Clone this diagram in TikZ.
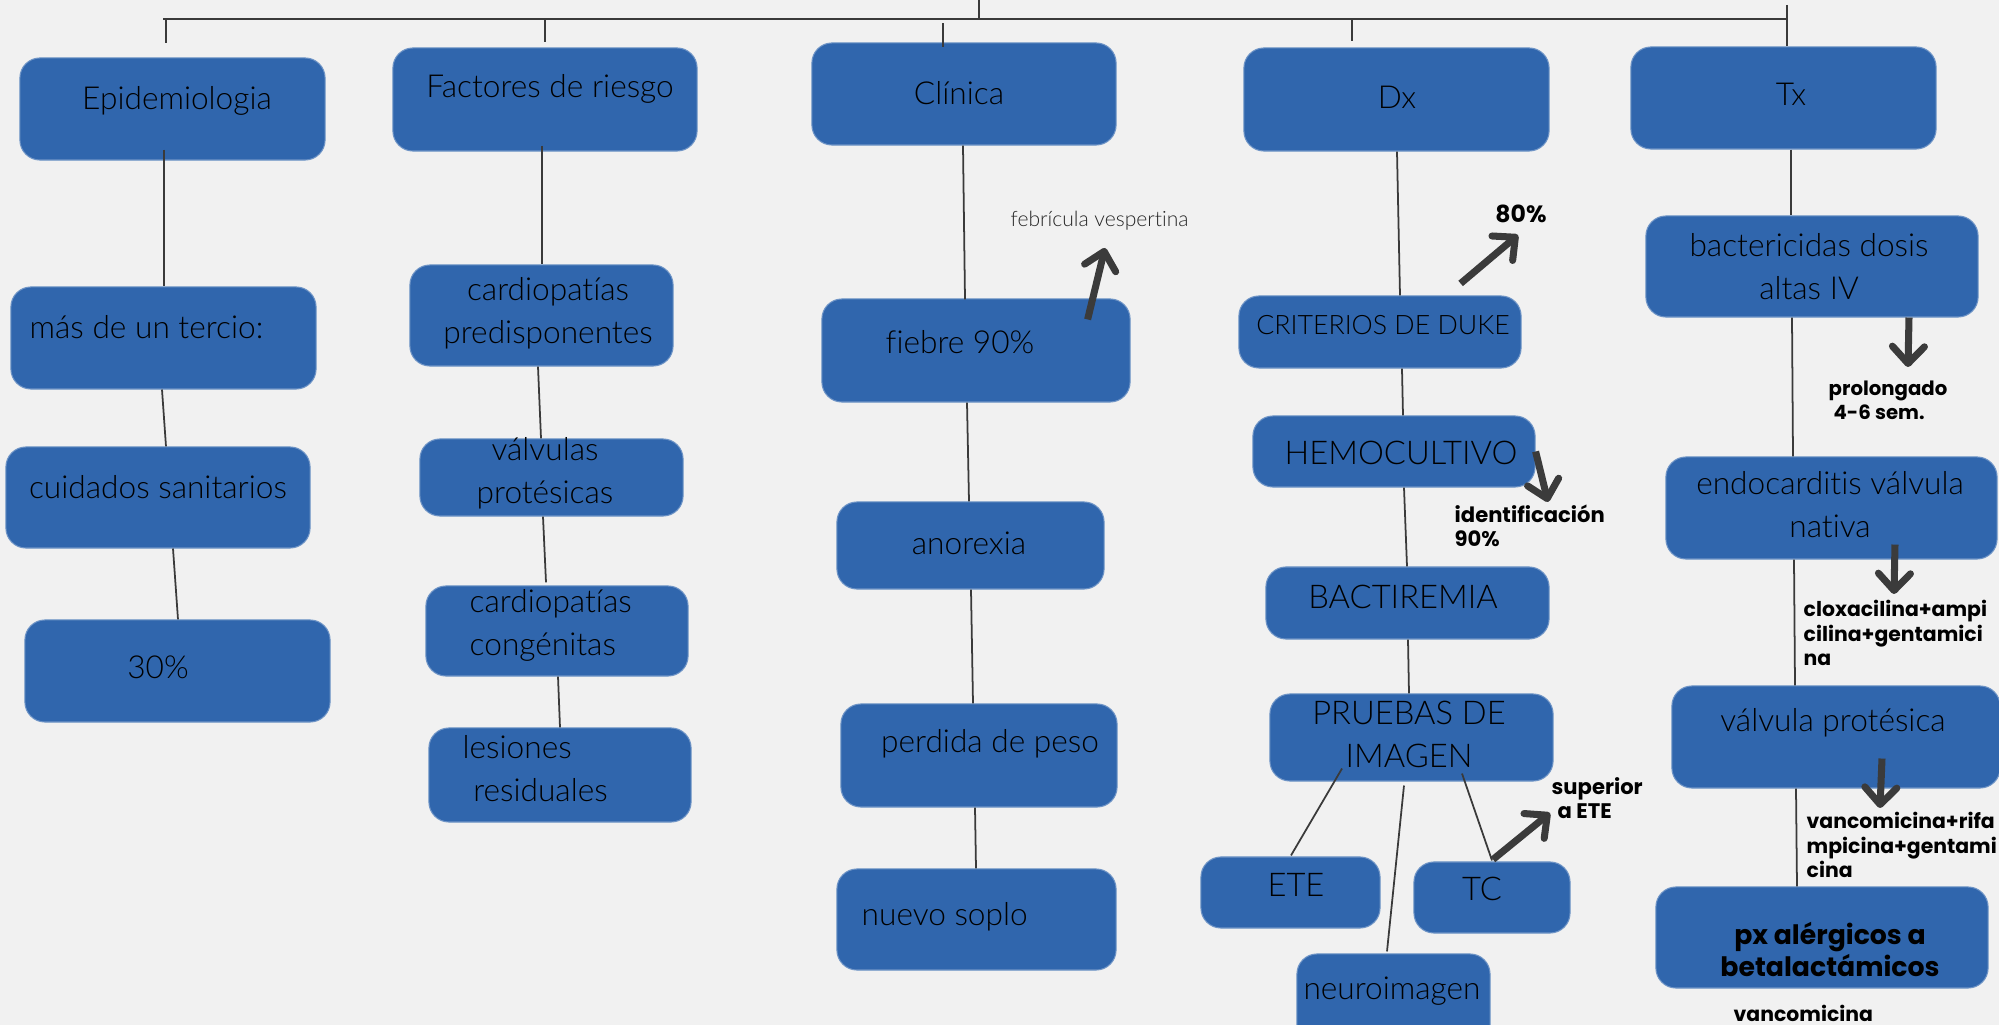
\documentclass[tikz,border=0pt]{standalone}
\usepackage{fontspec}
\setmainfont{Lato Light}[Ligatures=NoCommon]
\newfontfamily\pop{Poppins}
\usetikzlibrary{arrows.meta}
\definecolor{bg}{HTML}{F1F1F1}
\definecolor{boxblue}{HTML}{3066AD}
\definecolor{linegray}{HTML}{3A3A3A}
\definecolor{arrowgray}{HTML}{3B3B3B}
\tikzset{
  box/.style={draw=boxblue!70!white, line width=0.3pt, fill=boxblue, rounded corners=0.2cm, inner sep=0pt},
  conn/.style={draw=linegray, line width=0.5pt},
  bigarrow/.style={draw=arrowgray, line width=2pt, line cap=butt,
    -{Straight Barb[length=1.7mm, width=3.2mm, line cap=round, line join=round]}},
  txt/.style={inner sep=0pt, anchor=base, text=black, font=\fontsize{9}{12.5}\selectfont},
  caps/.style={font=\fontsize{9.3}{12.3}\selectfont},
  crit/.style={font=\fontsize{7.6}{10}\selectfont},
  small/.style={inner sep=0pt, anchor=base west, text=black!85, font=\fontsize{6}{7}\selectfont},
  lab/.style={inner sep=0pt, anchor=base west, align=left, text=black, font=\pop\bfseries\fontsize{5.8}{7.1}\selectfont},
  pxs/.style={inner sep=0pt, anchor=base, align=center, text=black, font=\pop\bfseries\fontsize{7.6}{9.1}\selectfont},
}
\begin{document}
\begin{tikzpicture}[x=0.01cm, y=-0.01cm]
\useasboundingbox (0,0) rectangle (1999,1025);
\clip (0,0) rectangle (1999,1025);
\fill[bg] (0,0) rectangle (1999,1025);

% ---- boxes ----
\node[box, minimum width=3.05cm, minimum height=1.02cm] (epi) at (172.5,109) {};
\node[box, minimum width=3.04cm, minimum height=1.03cm] (fac) at (545,99.5) {};
\node[box, minimum width=3.04cm, minimum height=1.02cm] (cli) at (964,94) {};
\node[box, minimum width=3.05cm, minimum height=1.03cm] (dx) at (1396.5,99.5) {};
\node[box, minimum width=3.05cm, minimum height=1.02cm] (tx) at (1783.5,98) {};

\node[box, minimum width=3.05cm, minimum height=1.02cm] (mas) at (163.5,338) {};
\node[box, minimum width=3.04cm, minimum height=1.01cm] (cui) at (158,497.5) {};
\node[box, minimum width=3.05cm, minimum height=1.02cm] (p30) at (177.5,671) {};

\node[box, minimum width=2.63cm, minimum height=1.01cm] (cpre) at (541.5,315.5) {};
\node[box, minimum width=2.63cm, minimum height=0.77cm] (vpro) at (551.5,477.5) {};
\node[box, minimum width=2.62cm, minimum height=0.90cm] (ccon) at (557,631) {};
\node[box, minimum width=2.62cm, minimum height=0.94cm] (lres) at (560,775) {};

\node[box, minimum width=3.08cm, minimum height=1.03cm] (fie) at (976,350.5) {};
\node[box, minimum width=2.67cm, minimum height=0.87cm] (ano) at (970.5,545.5) {};
\node[box, minimum width=2.76cm, minimum height=1.03cm] (per) at (979,755.5) {};
\node[box, minimum width=2.79cm, minimum height=1.01cm] (nue) at (976.5,919.5) {};

\node[box, minimum width=2.82cm, minimum height=0.72cm] (cri) at (1380,332) {};
\node[box, minimum width=2.82cm, minimum height=0.71cm] (hem) at (1394,451.5) {};
\node[box, minimum width=2.83cm, minimum height=0.72cm] (bac) at (1407.5,603) {};
\node[box, minimum width=2.83cm, minimum height=0.87cm] (pru) at (1411.5,737.5) {};
\node[box, minimum width=1.79cm, minimum height=0.71cm] (ete) at (1290.5,892.5) {};
\node[box, minimum width=1.56cm, minimum height=0.71cm] (tc) at (1492,897.5) {};
\node[box, minimum width=1.93cm, minimum height=0.91cm] (neu) at (1393.5,999.5) {};

\node[box, minimum width=3.32cm, minimum height=1.01cm] (bact) at (1812,266.5) {};
\node[box, minimum width=3.31cm, minimum height=1.02cm] (endo) at (1831.5,508) {};
\node[box, minimum width=3.28cm, minimum height=1.02cm] (valp) at (1836,737) {};
\node[box, minimum width=3.32cm, minimum height=1.01cm] (pxa) at (1822,937.5) {};

% ---- top bar ----
\coordinate (top0) at (979,0);
\coordinate (barL) at (163,19);
\coordinate (barR) at (1787,19);
\coordinate (txTop) at (1787,5);
\draw[conn, line width=0.6pt] (barL) -- (barR);
\draw[conn] (top0) -- (top0 |- barL);
\draw[conn] (txTop) -- (tx.north -| barR);
\draw[conn] ([shift={(3,0)}]barL) -- ++(0,24);
\draw[conn] (fac.north |- barL) -- ([shift={(0,-5)}]fac.north);
\draw[conn] ([shift={(-21,-19)}]cli.north) -- ++(0,24);
\draw[conn] ([shift={(-44.5,-29)}]dx.north) -- ++(0,23);

% ---- column connectors ----
\draw[conn] ([shift={(-8.5,-11)}]epi.south) -- ([shift={(0.5,0)}]mas.north);
\draw[conn] ([shift={(-1.5,0)}]mas.south) -- ([shift={(8,0)}]cui.north);
\draw[conn] ([shift={(15,0)}]cui.south) -- ([shift={(0.5,0)}]p30.north);

\draw[conn] ([shift={(-3,-6)}]fac.south) -- ([shift={(0.5,0)}]cpre.north);
\draw[conn] ([shift={(-3.5,0)}]cpre.south) -- ([shift={(-10.5,0)}]vpro.north);
\draw[conn] ([shift={(-8.5,0)}]vpro.south) -- ([shift={(-11,-3)}]ccon.north);
\draw[conn] ([shift={(1,0)}]ccon.south) -- (lres.north);

\draw[conn] ([shift={(-1,0)}]cli.south) -- ([shift={(-11,1)}]fie.north);
\draw[conn] ([shift={(-9,0)}]fie.south) -- ([shift={(-1.5,0)}]ano.north);
\draw[conn] ([shift={(0.5,0)}]ano.south) -- ([shift={(-6,0)}]per.north);
\draw[conn] ([shift={(-4,0)}]per.south) -- ([shift={(-0.5,0)}]nue.north);

\draw[conn] ([shift={(0.5,0)}]dx.south) -- ([shift={(20,0)}]cri.north);
\draw[conn] ([shift={(22,0)}]cri.south) -- ([shift={(9,0)}]hem.north);
\draw[conn] ([shift={(10,0)}]hem.south) -- ([shift={(-0.5,0)}]bac.north);
\draw[conn] ([shift={(0.5,0)}]bac.south) -- ([shift={(-2.5,0)}]pru.north);
\draw[conn] ([shift={(-69.5,-13)}]pru.south) -- ([shift={(0.5,-1)}]ete.north);
\draw[conn] ([shift={(-7.5,4)}]pru.south) -- ([shift={(-6.5,-2)}]neu.north);
\draw[conn] ([shift={(50.5,-8)}]pru.south) -- ([shift={(0,-1)}]tc.north);

\draw[conn] ([shift={(7.5,0)}]tx.south) -- ([shift={(-21,0)}]bact.north);
\draw[conn] ([shift={(-20,0)}]bact.south) -- ([shift={(-38.5,0)}]endo.north);
\draw[conn] ([shift={(-37.5,0)}]endo.south) -- ([shift={(-41,0)}]valp.north);
\draw[conn] ([shift={(-40,0)}]valp.south) -- ([shift={(-25,0)}]pxa.north);

% ---- box texts ----
\node[txt] (epiT) at (177,110) {Epidemiologia};
\node[txt] (facT) at (550,98) {Factores de riesgo};
\node[txt] (cliT) at (959,105) {Clínica};
\node[txt] (dxT) at (1397,109) {Dx};
\node[txt] (txT) at (1791,106) {Tx};
\node[txt, anchor=base west] (masT) at (29,339) {más de un tercio:};
\node[txt] (cuiT) at (158,499) {cuidados sanitarios};
\node[txt] (p30T) at (158,679) {30\%};
\node[txt, align=center] (cpreT) at (548,344) {cardiopatías\\predisponentes};
\node[txt, align=center] (vproT) at (545,504) {válvulas\\protésicas};
\node[txt, align=left, anchor=base west] (cconT) at (469,656) {cardiopatías\\congénitas};
\node[txt, align=left, anchor=base west] (lresT) at (462,802) {lesiones\\\hspace*{3pt}residuales};
\node[txt] (fieT) at (960,354) {fiebre 90\%};
\node[txt] (anoT) at (969,555) {anorexia};
\node[txt] (perT) at (990,753) {perdida de peso};
\node[txt, anchor=base west] (nueT) at (861,926) {nuevo soplo};
\node[txt, crit] (criT) at (1383,335) {CRITERIOS DE DUKE};
\node[txt, caps] (hemT) at (1401,465) {HEMOCULTIVO};
\node[txt, caps] (bacT) at (1403,609) {BACTIREMIA};
\node[txt, caps, align=center] (pruT) at (1409,768) {PRUEBAS DE\\IMAGEN};
\node[txt, caps] (eteT) at (1296,897) {ETE};
\node[txt, caps] (tcT) at (1482,901) {TC};
\node[txt] (neuT) at (1392,1000) {neuroimagen};
\node[txt, align=center] (bactT) at (1809,300) {bactericidas dosis\\altas IV};
\node[txt, align=center] (endoT) at (1830,538) {endocarditis válvula\\nativa};
\node[txt] (valpT) at (1833,732) {válvula protésica};
\node[pxs] (pxaT) at (1830,977) {px alérgicos a\\betalactámicos};

% ---- free labels ----
\node[small] (febT) at (1010,227) {febrícula vespertina};
\node[lab, anchor=base, font=\pop\bfseries\fontsize{6.7}{7}\selectfont] (l80) at (1521,223) {80\%};
\node[lab, font=\pop\bfseries\fontsize{6}{7.1}\selectfont] (lid) at (1454,547) {identificación\\90\%};
\node[lab, font=\pop\bfseries\fontsize{6}{6.9}\selectfont] (lsup) at (1551,819) {superior\\\hspace*{1.7pt}a ETE};
\node[lab, font=\pop\bfseries\fontsize{5.6}{7.1}\selectfont] (lpro) at (1828,420) {prolongado\\\hspace*{1.4pt}4-6 sem.};
\node[lab] (lclo) at (1803,666) {cloxacilina+ampi\\cilina+gentamici\\na};
\node[lab] (lvan) at (1806,878) {vancomicina+rifa\\mpicina+gentami\\cina};
\node[lab] (lvanc) at (1733,1022) {vancomicina};

% ---- thick arrows ----
\coordinate (a1e) at (1105,248);
\coordinate (a2e) at (1518,235);
\coordinate (a3e) at (1548,502);
\coordinate (a4e) at (1550,813);
\coordinate (a5e) at (1908,367);
\coordinate (a6e) at (1894,594);
\coordinate (a7e) at (1880,808);
\draw[bigarrow] ([shift={(-43,21)}]fie.north east) -- (a1e);
\draw[bigarrow] ([shift={(-61,-12)}]cri.north east) -- (a2e);
\draw[bigarrow] (hem.east) -- (a3e);
\draw[bigarrow] ([shift={(1,-2)}]tc.north) -- (a4e);
\draw[bigarrow] ([shift={(97,0)}]bact.south) -- (a5e);
\draw[bigarrow] ([shift={(63.5,-15)}]endo.south) -- (a6e);
\draw[bigarrow] ([shift={(46,-30)}]valp.south) -- (a7e);
\end{tikzpicture}
\end{document}
